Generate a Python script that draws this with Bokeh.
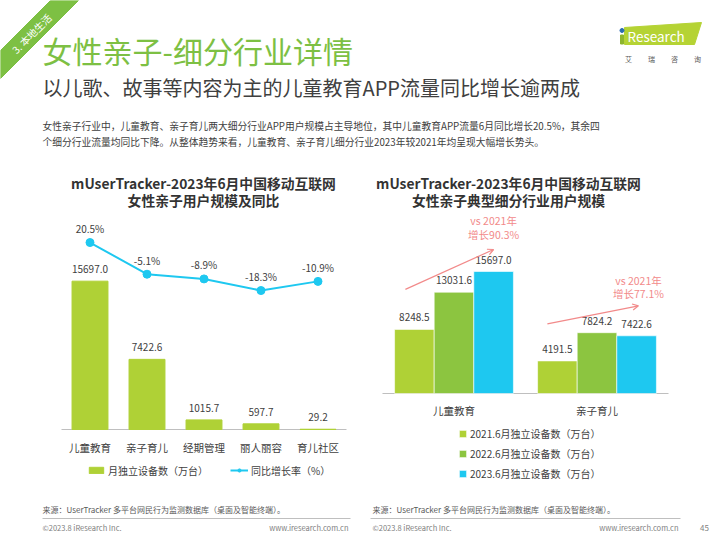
from math import pi
from bokeh.plotting import figure
from bokeh.layouts import column, row
from bokeh.models import (Range1d, FactorRange, Legend, LegendItem, Arrow,
                          OpenHead, ColumnDataSource)
from bokeh.transform import dodge
from bokeh.core.properties import value
from bokeh.embed import file_html
from bokeh.resources import INLINE

# ---------------- data ----------------
left_categories = ["儿童教育", "亲子育儿", "经期管理", "丽人丽容", "育儿社区"]
left_devices = [15697.0, 7422.6, 1015.7, 597.7, 29.2]
left_growth = [20.5, -5.1, -8.9, -18.3, -10.9]
left_series = ["月独立设备数（万台）", "同比增长率（%）"]

right_categories = ["儿童教育", "亲子育儿"]
devices_2021 = [8248.5, 4191.5]
devices_2022 = [13031.6, 7824.2]
devices_2023 = [15697.0, 7422.6]
right_series = ["2021.6月独立设备数（万台）", "2022.6月独立设备数（万台）",
                "2023.6月独立设备数（万台）"]

title_text = "女性亲子-细分行业详情"
subtitle_text = "以儿歌、故事等内容为主的儿童教育APP流量同比增长逾两成"
para_lines = [
    "女性亲子行业中，儿童教育、亲子育儿两大细分行业APP用户规模占主导地位，其中儿童教育APP流量6月同比增长20.5%，其余四",
    "个细分行业流量均同比下降。从整体趋势来看，儿童教育、亲子育儿细分行业2023年较2021年均呈现大幅增长势头。",
]
left_title = ["mUserTracker-2023年6月中国移动互联网", "女性亲子用户规模及同比"]
right_title = ["mUserTracker-2023年6月中国移动互联网", "女性亲子典型细分行业用户规模"]
source_text = "来源：UserTracker 多平台网民行为监测数据库（桌面及智能终端）。"

# ---------------- styles ----------------
FONT = "Noto Sans CJK SC"
LIME = "#AFD136"
GREEN2 = "#8CC540"
CYAN = "#1EC8F0"
SALMON = "#F28A8A"
TITLE_GREEN = "#7DC043"
DARK = "#404040"


def canvas(w, h, x0, y0):
    p = figure(width=w, height=h, x_range=Range1d(x0, x0 + w),
               y_range=Range1d(y0 + h, y0), output_backend="svg",
               toolbar_location=None, x_axis_type=None, y_axis_type=None,
               min_border=0)
    p.outline_line_color = None
    return p


def txt(p, x, y, s, size, color, align="left", bold=False, angle=0.0):
    p.text(x=[x], y=[y], text=[s], text_font=value(FONT),
           text_font_size=f"{size}px", text_color=color, text_align=align,
           text_baseline="middle", angle=angle,
           text_font_style="bold" if bold else "normal")


# ---------------- header ----------------
hd = canvas(720, 210, 0, 0)
hd.patch(x=[50, 78, 0, 0], y=[0, 0, 78, 50], color=TITLE_GREEN)
txt(hd, 31, 33, "3. 本地生活", 10, "white", align="center", angle=pi / 4)
txt(hd, 42, 49, title_text, 30, TITLE_GREEN)
txt(hd, 42, 86.5, subtitle_text, 20, DARK)
txt(hd, 42, 125, para_lines[0], 9.75, DARK)
txt(hd, 42, 141, para_lines[1], 9.75, DARK)
# logo
hd.patch(x=[624, 701, 694, 624], y=[27, 22, 44, 44], color="#B5D334")
hd.rect(x=[621.5], y=[39], width=3, height=9, color="#8DB52E")
hd.scatter(x=[621.5], y=[30], size=4, color="#2B6CB0")
txt(hd, 627, 35, "Research", 13.5, "white")
for cx, ch in zip([628, 651, 674, 697], "艾瑞咨询"):
    txt(hd, cx, 58, ch, 7, "#595959", align="center")
# chart titles
for cx, lines in [(203, left_title), (508, right_title)]:
    txt(hd, cx, 182, lines[0], 13.8, "#333333", align="center", bold=True)
    txt(hd, cx, 199, lines[1], 13.8, "#333333", align="center", bold=True)


def chart(cats, pad, ymin, ymax, border_left, border_right):
    p = figure(width=360, height=280,
               x_range=FactorRange(*cats, range_padding=pad,
                                   range_padding_units="percent"),
               y_range=Range1d(ymin, ymax), x_axis_type=None,
               y_axis_type=None, output_backend="svg", toolbar_location=None,
               min_border_left=border_left, min_border_right=border_right,
               min_border_top=0, min_border_bottom=0)
    p.outline_line_color = None
    # category axis line
    p.segment(x0=[0], x1=[len(cats)], y0=[0], y1=[0], line_color="#BFBFBF",
              line_width=1)
    return p


def cat_labels(p, cats, offset):
    p.text(x=cats, y=[0] * len(cats), text=cats, y_offset=offset,
           text_align="center", text_baseline="middle",
           text_font=value(FONT), text_font_size="10.5px",
           text_color=DARK)


# ---------------- left chart ----------------
LPX = 0.00945  # screen px per unit
pl = chart(left_categories, 0.09825, -61 / LPX, 219 / LPX, 47, 0)
pl.extra_y_ranges = {"pct": Range1d(-179.95, 46.40)}
lsrc = ColumnDataSource(dict(
    cat=left_categories, dev=left_devices, growth=left_growth,
    dev_label=[f"{v:.1f}" for v in left_devices],
    growth_label=[f"{g:.1f}%" for g in left_growth]))
bars = pl.vbar(x="cat", top="dev", width=0.63, source=lsrc, color=LIME)
pl.text(x="cat", y="dev", text="dev_label", source=lsrc, y_offset=-12,
        text_align="center", text_baseline="middle", text_font=value(FONT),
        text_font_size="10px", text_color=DARK)
gline = pl.line(x="cat", y="growth", source=lsrc, y_range_name="pct",
                line_color=CYAN, line_width=2)
gdots = pl.scatter(x="cat", y="growth", source=lsrc, y_range_name="pct",
                   size=8, color=CYAN)
pl.text(x="cat", y="growth", text="growth_label", source=lsrc,
        y_range_name="pct", y_offset=-14, text_align="center",
        text_baseline="middle", text_font=value(FONT),
        text_font_size="10px", text_color=DARK)
cat_labels(pl, left_categories, 18)
lleg = Legend(items=[LegendItem(label=left_series[0], renderers=[bars]),
                     LegendItem(label=left_series[1], renderers=[gline, gdots])],
              orientation="horizontal", location=(40, 10),
              glyph_width=18, glyph_height=8, label_height=20,
              label_standoff=3, spacing=22, padding=0, margin=0,
              border_line_color=None, background_fill_alpha=0,
              label_text_font=FONT, label_text_font_size="10px",
              label_text_color=DARK)
pl.add_layout(lleg)

# ---------------- right chart ----------------
RPX = 122 / 15697.0
pr = chart(right_categories, 0.1538, -97 / RPX, 183 / RPX, 0, 30)
rsrc = ColumnDataSource(dict(cat=right_categories, y21=devices_2021,
                             y22=devices_2022, y23=devices_2023,
                             l21=[f"{v:.1f}" for v in devices_2021],
                             l22=[f"{v:.1f}" for v in devices_2022],
                             l23=[f"{v:.1f}" for v in devices_2023]))
W = 0.277
rends = []
for off, col, key, lab in [(-W, LIME, "y21", "l21"), (0.0, GREEN2, "y22", "l22"),
                           (W, CYAN, "y23", "l23")]:
    r = pr.vbar(x=dodge("cat", off, range=pr.x_range), top=key, width=W,
                source=rsrc, fill_color=col, line_color="white", line_width=0.6)
    rends.append(r)
    pr.text(x=dodge("cat", off, range=pr.x_range), y=key, text=lab,
            source=rsrc, y_offset=-12, text_align="center",
            text_baseline="middle", text_font=value(FONT),
            text_font_size="10px", text_color=DARK)

# growth annotations (arrows from 2021 to 2023), offsets in screen px
arrow_start_dx = [-0.063, -0.07]
arrow_start_dy = [40, 37]
arrow_end_dx = [0.0, 0.013]
arrow_end_dy = [22, 30]
text_dy = [(51, 37), (55, 42)]   # above the 2023 bar top
for i in range(len(right_categories)):
    c = i + 0.5
    x0 = c - W + arrow_start_dx[i]
    y0 = devices_2021[i] + arrow_start_dy[i] / RPX
    x1 = c + W + arrow_end_dx[i]
    y1 = devices_2023[i] + arrow_end_dy[i] / RPX
    pr.add_layout(Arrow(end=OpenHead(size=6, line_color=SALMON, line_width=1.2),
                        x_start=x0, y_start=y0, x_end=x1, y_end=y1,
                        line_color=SALMON, line_width=1.2))
    g = (devices_2023[i] / devices_2021[i] - 1) * 100
    for dy, s in zip(text_dy[i], ["vs 2021年", f"增长{g:.1f}%"]):
        pr.text(x=[x1], y=[devices_2023[i] + dy / RPX], text=[s],
                text_align="center", text_baseline="middle",
                text_font=value(FONT), text_font_size="10.5px",
                text_color=SALMON)
cat_labels(pr, right_categories, 17)
rleg = Legend(items=[LegendItem(label=right_series[k], renderers=[rends[k]])
                     for k in range(3)],
              orientation="vertical", location=(98, 7),
              glyph_width=9, glyph_height=9, label_height=20, label_standoff=3,
              spacing=0, padding=0, margin=0, border_line_color=None,
              background_fill_alpha=0, label_text_font=FONT,
              label_text_font_size="10px", label_text_color=DARK)
pr.add_layout(rleg)

# ---------------- footer ----------------
ft = canvas(720, 50, 0, 490)
ft.segment(x0=[42, 370], y0=[518, 518], x1=[350, 680], y1=[518, 518],
           line_color="#BFBFBF", line_width=1)
txt(ft, 42, 509, source_text, 8, "#595959")
txt(ft, 372, 509, source_text, 8, "#595959")
txt(ft, 42, 527, "©2023.8 iResearch Inc.", 7.5, "#808080")
txt(ft, 372, 527, "©2023.8 iResearch Inc.", 7.5, "#808080")
txt(ft, 348, 527, "www.iresearch.com.cn", 7.5, "#808080", align="right")
txt(ft, 678, 527, "www.iresearch.com.cn", 7.5, "#808080", align="right")
txt(ft, 704, 527, "45", 8, "#808080", align="center")

layout = column(hd, row(pl, pr), ft)
open("out.html", "w").write(file_html(layout, INLINE))
